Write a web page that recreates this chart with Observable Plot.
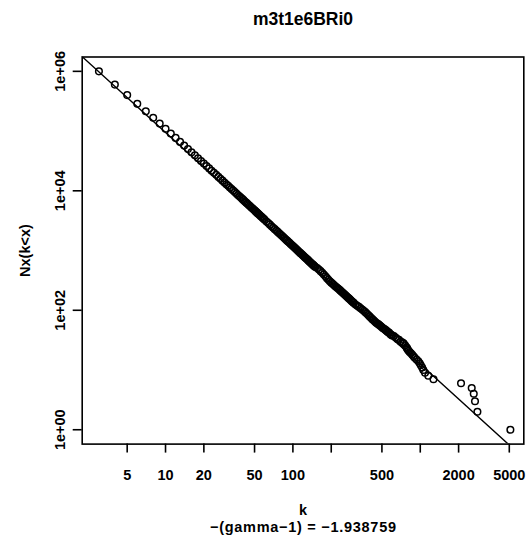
<!DOCTYPE html>
<html>
<head>
<meta charset="utf-8">
<script src="https://cdn.jsdelivr.net/npm/d3@7"></script>
<script src="https://cdn.jsdelivr.net/npm/@observablehq/plot@0.6"></script>
<style>
  html, body { margin: 0; padding: 0; background: #fff; }
</style>
</head>
<body>
<div id="chart"></div>
<script>
// ---- texts ----
const titleText = "m3t1e6BRi0";
const xLabel = "k";
const subText = "\u2212(gamma\u22121) = \u22121.938759";
const yLabel = "Nx(k<x)";

// ---- data: degree k and cumulative count N ----
const kValues = [
  3,4,5,6,7,8,9,10,11,12,13,14,15,16,17,18,19,20,21,22,23,24,25,26,27,28,29,30,
  31,32,33,34,35,36,37,38,39,40,41,42,43,44,45,46,47,48,49,50,51,52,53,54,55,56,57,58,59,60,
  62,64,66,68,70,72,74,76,78,80,82,84,86,88,90,92,94,96,98,100,102,104,106,108,110,112,114,116,118,120,
  122,124,126,128,130,132,134,136,138,140,142,144,146,148,150,
  155,160,165,170,175,180,185,190,195,200,205,210,215,220,225,230,235,240,245,250,255,260,265,270,275,280,285,290,295,300,
  310,320,330,340,350,360,370,380,390,400,410,420,430,440,450,460,470,480,490,500,510,520,530,540,550,560,570,580,590,600,
  620,640,660,680,700,720,740,760,780,
  788,797,810,825,845,865,885,905,935,965,990,1010,1035,1057,1090,1156,1270,2090,2535,2630,2690,2810,5100
];
const nValues = [
  1000000,600000,400000,285700,214300,166700,133300,109100,90900,76900,65900,57100,50000,44100,39200,35100,31600,28600,26000,23700,21700,20000,18500,17100,15900,14800,13800,12900,
  12100,11360,10700,10080,9520,9010,8530,8100,7690,7320,6970,6640,6340,6060,5800,5550,5320,5100,4900,4710,4520,4350,4190,4040,3900,3760,3630,3510,3390,3280,
  3072,2885,2714,2558,2414,2283,2162,2051,1947,1852,1763,1681,1604,1532,1465,1403,1344,1289,1237,1188,1142,1099,1058,1019,983,948,915,884,855,826,
  800,774,750,727,705,684,663,644,626,608,591,575,559,544,530,
  510,482,452,424,396,370,345,325,306,290,277,265,253,243,233,224,215,206,198,190,183,176,170,164,158,153,147,142,137,133,
  125,119,114,108,103,98,93,88,83,79,75,71,68,65,62,60,58,56,54,52,50,49,47,46,44,43,42,40,39,38,
  37,35,33,32,30,29,28,26,24,
  23,22,21,20,19,18,17,16,15,14,13,12,11,10,9,8,7,6,5,4,3,2,1
];

// ---- axes ----
const xTicks = [5, 10, 20, 50, 100, 200, 500, 1000, 2000, 5000];
const xTickLabels = ["5", "10", "20", "50", "100", "", "500", "", "2000", "5000"];
const yTicks = [1, 100, 10000, 1000000];
const yTickLabels = ["1e+00", "1e+02", "1e+04", "1e+06"];
const xDomain = [2.217, 6500];
const yDomain = [0.575, 1738000];

// ---- fitted power law (log10 N = intercept + slope * log10 k) ----
const fitSlope = -1.938759;
const fitIntercept = 6.915;
const fitRange = [2, 8000];

const points = kValues.map((k, i) => ({k, n: nValues[i]}));
const fitLine = fitRange.map(k => ({k, n: Math.pow(10, fitIntercept + fitSlope * Math.log10(k))}));

const W = 528, H = 540;
const mL = 81.7, mR = 4.7, mT = 56.5, mB = 96.4;
const bottomY = H - mB;

const chart = Plot.plot({
  width: W,
  height: H,
  marginLeft: mL,
  marginRight: mR,
  marginTop: mT,
  marginBottom: mB,
  style: {fontFamily: "'Liberation Sans', Arial, Helvetica, sans-serif", fontSize: "14.5px", fontWeight: "bold", background: "#fff", color: "#000"},
  x: {type: "log", domain: xDomain},
  y: {type: "log", domain: yDomain},
  marks: [
    Plot.line(fitLine, {x: "k", y: "n", stroke: "#000", strokeWidth: 1.4, clip: true}),
    Plot.dot(points, {x: "k", y: "n", r: 3.3, stroke: "#000", strokeWidth: 1.5, fill: "none"}),
    Plot.frame({stroke: "#000", strokeWidth: 1.6}),
    Plot.axisX({ticks: xTicks, tickFormat: () => "", tickSize: 9, label: null, strokeWidth: 1.6}),
    Plot.axisY({ticks: yTicks, tickFormat: () => "", tickSize: 9, label: null, strokeWidth: 1.6}),
    Plot.text(xTicks, {x: d => d, text: (d, i) => xTickLabels[i], frameAnchor: "bottom", dy: 479 - bottomY, textAnchor: "middle", lineAnchor: "bottom"}),
    Plot.text(yTicks, {y: d => d, text: (d, i) => yTickLabels[i], frameAnchor: "left", dx: -17.5, rotate: -90, textAnchor: "middle", lineAnchor: "bottom"}),
    Plot.text([titleText], {text: d => d, frameAnchor: "top", dy: 24 - mT, lineAnchor: "bottom", fontWeight: "bold", fontSize: 17.5}),
    Plot.text([xLabel], {text: d => d, frameAnchor: "bottom", dy: 514 - bottomY, lineAnchor: "bottom"}),
    Plot.text([subText], {text: d => d, frameAnchor: "bottom", dy: 531 - bottomY, lineAnchor: "bottom"}),
    Plot.text([yLabel], {text: d => d, frameAnchor: "left", dx: 30 - mL, rotate: -90, textAnchor: "middle", lineAnchor: "bottom"})
  ]
});
// the reference sets the subtitle slightly wider than the font's natural width
d3.select(chart).selectAll("text").filter(function() { return this.textContent === subText; })
  .attr("textLength", 186).attr("lengthAdjust", "spacing");
document.getElementById("chart").appendChild(chart);
</script>
</body>
</html>
